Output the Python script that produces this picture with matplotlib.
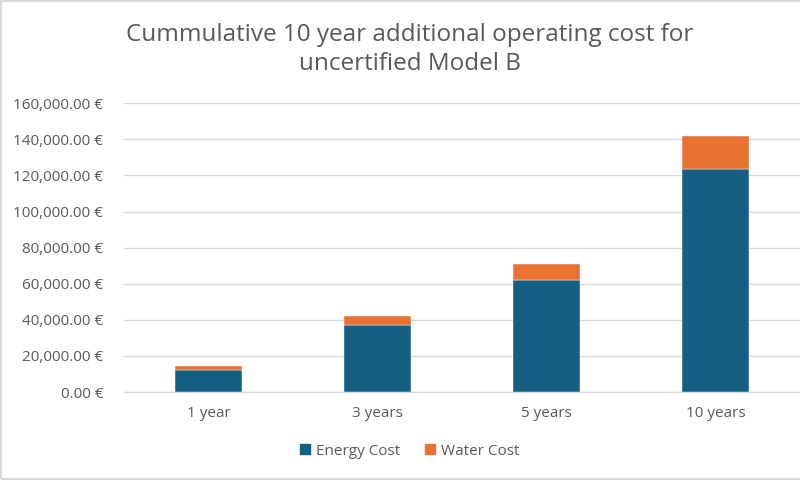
import matplotlib
matplotlib.use("Agg")
import matplotlib.pyplot as plt
from matplotlib.patches import Rectangle, Patch
from matplotlib.ticker import FuncFormatter

categories = ["1 year", "3 years", "5 years", "10 years"]
energy_cost = [12400, 37100, 61800, 123700]
water_cost = [1800, 5100, 9200, 18100]
series_names = ["Energy Cost", "Water Cost"]
yticks = [0, 20000, 40000, 60000, 80000, 100000, 120000, 140000, 160000]

plt.rcParams['font.family'] = ['Open Sans', 'DejaVu Sans']
text_color = "#595959"
grid_color = "#d9d9d9"
c_energy = "#156082"
c_water = "#E97132"

fig = plt.figure(figsize=(8, 4.8), dpi=100)
ax = fig.add_axes([0.155, 0.1833, 0.845, 0.6015])

x = list(range(len(categories)))
ax.bar(x, energy_cost, width=0.4, color=c_energy, edgecolor="white", linewidth=0.3, zorder=3)
ax.bar(x, water_cost, width=0.4, bottom=energy_cost, color=c_water, edgecolor="white", linewidth=0.3, zorder=3)

ax.set_xlim(-0.5, len(categories) - 0.5)
ax.set_ylim(0, 160000)
ax.set_yticks(yticks)
ax.yaxis.set_major_formatter(FuncFormatter(lambda v, p: f"{v:,.2f} €"))
ax.set_xticks(x)
ax.set_xticklabels(categories)
ax.tick_params(axis='both', length=0, colors=text_color, labelsize=11)
ax.tick_params(axis='y', pad=15)
ax.tick_params(axis='x', pad=10)
ax.grid(axis='y', color=grid_color, linewidth=1, zorder=0)
for s in ['top', 'right', 'left']:
    ax.spines[s].set_visible(False)
ax.spines['bottom'].set_color(grid_color)
ax.spines['bottom'].set_linewidth(1)

fig.text(0.5125, 0.897, "Cummulative 10 year additional operating cost for\nuncertified Model B",
         ha='center', va='center', fontsize=17.5, color=text_color, linespacing=1.3)

handles = [Patch(color=c_energy), Patch(color=c_water)]
fig.legend(handles, series_names, loc='center', bbox_to_anchor=(0.5125, 0.06), ncol=2,
           frameon=False, fontsize=11, labelcolor=text_color, handlelength=0.65, handleheight=0.65,
           handletextpad=0.4, columnspacing=1.6)

fig.add_artist(Rectangle((0.001, 0.002), 1.2, 0.996, transform=fig.transFigure,
                         fill=False, edgecolor=grid_color, linewidth=1.5))

fig.savefig("out.png", dpi=100)
